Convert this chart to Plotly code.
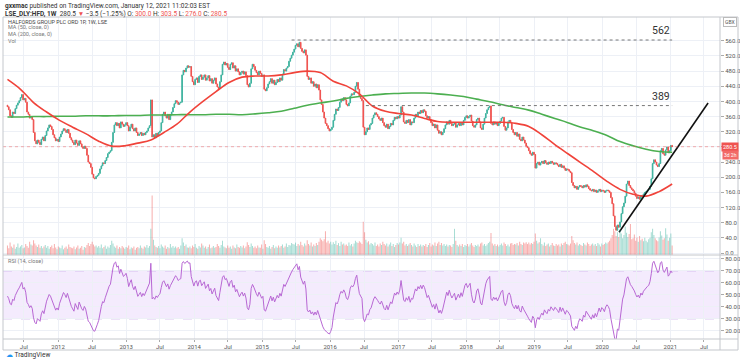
import numpy as np
import pandas as pd
import plotly.graph_objects as go

# ---------------- data ----------------
START = "2011-04-04"
FIRST_OPEN = 390
CLOSES = [
    386, 378, 362, 358, 372, 368, 381, 390, 396, 402,
    410, 418, 404, 408, 398, 372, 366, 356, 360, 352,
    318, 296, 288, 298, 292, 286, 300, 306, 296, 310,
    322, 330, 338, 334, 326, 312, 304, 296, 300, 294,
    306, 314, 322, 328, 324, 318, 326, 316, 304, 298,
    292, 286, 298, 290, 284, 296, 288, 280, 276, 282,
    276, 258, 240, 236, 226, 208, 198, 196, 202, 205,
    210, 222, 230, 238, 236, 244, 252, 262, 266, 270,
    292, 318, 338, 344, 336, 342, 330, 346, 340, 334,
    338, 344, 336, 322, 332, 340, 328, 322, 330, 318,
    310, 314, 318, 310, 316, 312, 318, 322, 330, 336,
    404, 306, 312, 304, 316, 310, 318, 322, 344, 366,
    372, 362, 356, 366, 352, 364, 372, 384, 394, 402,
    398, 392, 396, 398, 470, 482, 478, 488, 494, 490,
    492, 466, 452, 444, 458, 462, 450, 466, 470, 458,
    464, 470, 456, 462, 468, 454, 460, 448, 456, 462,
    446, 438, 434, 452, 470, 498, 504, 496, 500, 490,
    484, 498, 502, 488, 494, 480, 486, 478, 470, 476,
    480, 472, 478, 468, 444, 438, 448, 486, 498, 492,
    482, 476, 470, 480, 474, 466, 470, 432, 428, 436,
    446, 452, 460, 448, 456, 444, 450, 458, 452, 462,
    456, 472, 484, 480, 488, 492, 506, 514, 522, 530,
    538, 548, 552, 544, 556, 540, 532, 528, 536, 522,
    466, 458, 462, 448, 452, 440, 446, 436, 444, 430,
    404, 392, 372, 356, 342, 336, 328, 322, 326, 332,
    350, 366, 380, 376, 384, 398, 406, 402, 410, 404,
    392, 388, 396, 414, 420, 418, 424, 440, 450, 432,
    414, 408, 402, 332, 312, 320, 330, 326, 338, 342,
    356, 364, 370, 366, 360, 354, 350, 356, 344, 336,
    332, 340, 328, 334, 342, 338, 350, 358, 354, 360,
    356, 364, 386, 372, 346, 342, 350, 344, 352, 338,
    346, 344, 356, 366, 362, 372, 368, 376, 370, 378,
    374, 362, 356, 360, 352, 344, 336, 340, 330, 338,
    324, 316, 320, 312, 318, 328, 338, 346, 340, 350,
    342, 336, 340, 344, 332, 338, 342, 336, 344, 338,
    350, 358, 362, 356, 360, 364, 348, 336, 332, 338,
    352, 356, 346, 330, 326, 340, 356, 368, 378, 384,
    388, 342, 338, 346, 340, 344, 336, 342, 348, 356,
    358, 334, 324, 330, 346, 350, 344, 326, 318, 312,
    318, 308, 314, 300, 296, 306, 298, 290, 282, 278,
    270, 262, 258, 266, 260, 224, 236, 240, 232, 238,
    242, 236, 244, 238, 234, 240, 236, 242, 238, 234,
    238, 236, 232, 228, 234, 226, 230, 224, 218, 222,
    220, 216, 212, 186, 178, 172, 176, 168, 174, 178,
    176, 172, 178, 174, 180, 176, 170, 166, 164, 168,
    162, 166, 160, 164, 168, 162, 166, 164, 160, 164,
    166, 164, 160, 146, 130, 98, 70, 60, 74, 68,
    82, 104, 122, 132, 150, 182, 190, 178, 172, 168,
    164, 158, 150, 144, 148, 142, 152, 148, 156, 160,
    162, 166, 168, 176, 196, 236, 246, 240, 232, 228,
    236, 270, 276, 262, 258, 272, 280, 264, 270, 284, 280.5,
]
# weekly volume, in units of 100k shares
VOLUMES = [
    40, 28, 52, 36, 30, 44, 26, 34, 48, 30,
    36, 42, 28, 32, 46, 38, 30, 56, 44, 40,
    62, 48, 40, 34, 44, 30, 38, 28, 36, 42,
    30, 38, 26, 34, 40, 28, 46, 32, 24, 36,
    32, 28, 40, 24, 30, 36, 26, 44, 34, 30,
    28, 36, 24, 32, 40, 26, 30, 38, 22, 34,
    30, 42, 50, 38, 46, 56, 44, 36, 40, 32,
    38, 30, 44, 28, 34, 40, 26, 36, 30, 42,
    60, 48, 36, 30, 40, 26, 34, 28, 38, 32,
    26, 34, 30, 40, 24, 32, 28, 36, 22, 30,
    34, 28, 40, 30, 26, 36, 32, 42, 30, 38,
    110, 250, 64, 40, 34, 30, 38, 28, 44, 36,
    30, 40, 26, 34, 28, 46, 32, 38, 30, 36,
    28, 34, 26, 40, 70, 52, 38, 44, 32, 30,
    36, 28, 40, 34, 46, 30, 26, 38, 32, 48,
    40, 30, 36, 26, 34, 44, 28, 32, 38, 30,
    34, 46, 38, 30, 42, 60, 36, 32, 28, 40,
    30, 36, 26, 40, 32, 28, 44, 34, 30, 38,
    32, 40, 28, 36, 54, 42, 34, 48, 38, 30,
    36, 28, 40, 32, 30, 44, 26, 62, 46, 34,
    30, 38, 26, 34, 42, 28, 36, 30, 40, 32,
    38, 44, 30, 36, 48, 34, 42, 40, 50, 46,
    44, 52, 38, 46, 40, 56, 42, 36, 48, 40,
    62, 46, 40, 52, 36, 44, 38, 50, 42, 56,
    70, 64, 58, 66, 100, 52, 60, 48, 56, 44,
    54, 46, 60, 42, 50, 38, 56, 44, 48, 40,
    44, 38, 52, 40, 46, 36, 48, 60, 54, 50,
    58, 52, 46, 140, 96, 64, 52, 58, 44, 50,
    46, 40, 52, 38, 44, 36, 48, 42, 56, 46,
    40, 48, 36, 44, 52, 38, 46, 34, 42, 50,
    44, 52, 72, 48, 56, 40, 46, 38, 44, 50,
    42, 36, 48, 40, 34, 46, 38, 44, 36, 42,
    38, 46, 34, 42, 50, 36, 44, 40, 52, 38,
    48, 56, 42, 50, 40, 46, 38, 44, 36, 42,
    40, 34, 46, 110, 60, 42, 36, 44, 38, 46,
    34, 42, 38, 46, 36, 44, 50, 40, 34, 42,
    38, 44, 36, 48, 52, 40, 46, 38, 44, 50,
    56, 92, 48, 40, 46, 38, 44, 36, 42, 48,
    40, 52, 46, 38, 44, 36, 48, 50, 42, 46,
    44, 50, 40, 56, 46, 42, 52, 48, 54, 46,
    52, 44, 50, 46, 56, 90, 60, 48, 54, 70,
    46, 40, 52, 38, 44, 48, 36, 42, 50, 40,
    38, 46, 40, 44, 36, 48, 42, 50, 56, 46,
    44, 40, 48, 80, 62, 50, 44, 52, 40, 46,
    42, 38, 50, 44, 40, 52, 46, 38, 44, 48,
    40, 46, 38, 50, 44, 36, 48, 42, 46, 52,
    48, 54, 60, 70, 84, 110, 100, 80, 96, 76,
    108, 90, 70, 84, 120, 94, 76, 88, 130, 66,
    70, 86, 60, 74, 56, 80, 62, 68, 58, 72,
    60, 54, 66, 72, 96, 110, 84, 70, 62, 58,
    74, 100, 82, 64, 70, 112, 86, 60, 72, 90, 40,
]
# moving averages, one value every 10 weeks
MA50 = [458, 432, 397, 372, 350, 332, 315, 295, 282, 283,
        290, 298, 318, 340, 372, 400, 426, 450, 464, 467,
        467, 470, 476, 480, 476, 453, 441, 420, 388, 374,
        368, 364, 355, 347, 345, 345, 345, 345, 345, 342,
        334, 312, 286, 262, 238, 214, 189, 168, 155, 150,
        162, 182]
MA200 = [359, 359, 360, 360, 361, 361, 362, 362, 362, 363,
         363, 364, 364, 365, 365, 365, 366, 366, 365, 367,
         370, 374, 382, 390, 396, 401, 408, 413, 417, 420,
         421, 422, 422, 420, 417, 413, 406, 399, 391, 384,
         377, 366, 355, 344, 332, 322, 310, 294, 283, 274,
         268, 266]
LEVELS = [562, 389]
LEVEL_START = ["2015-06-08", "2016-07-11"]
LEVEL_END = "2021-01-11"
TREND_X = ["2020-04-01", "2021-07-23"]
TREND_Y = [55, 396]
LAST_PRICE = 280.5
PRICE_TICKS = list(range(0, 600, 40))
RSI_TICKS = [20, 30, 40, 50, 60, 70, 80]
X_RANGE = ["2011-03-11", "2021-09-25"]
X_TICK_DATES = []
X_TICK_TEXT = []
for yr in range(2011, 2022):
    if yr > 2011:
        X_TICK_DATES.append(f"{yr}-01-01"); X_TICK_TEXT.append(str(yr))
    X_TICK_DATES.append(f"{yr}-07-01"); X_TICK_TEXT.append("Jul")

# ---------------- derived ----------------
dates = pd.date_range(START, periods=len(CLOSES), freq="7D")
closes = np.array(CLOSES, float)
opens = np.concatenate([[FIRST_OPEN], closes[:-1]])
highs = np.maximum(opens, closes)
lows = np.minimum(opens, closes)
vols = np.array(VOLUMES[:len(CLOSES)], float)

UP = "#3fb39f"
DOWN = "#ef5350"
vol_colors = ["rgba(63,179,159,0.45)" if c >= o else "rgba(239,83,80,0.45)"
              for o, c in zip(opens, closes)]

# RSI(14), Wilder smoothing
ag, al = 7.0, 7.0
rsi = []
for dlt in np.diff(closes, prepend=FIRST_OPEN):
    g, l = max(dlt, 0.0), max(-dlt, 0.0)
    ag = (ag * 13 + g) / 14
    al = (al * 13 + l) / 14
    rsi.append(100 - 100 / (1 + ag / al) if al > 0 else 100.0)

ma_dates = dates[::10]

# ---------------- geometry ----------------
W, H = 740, 364
def px(x): return x / W
def py(y): return 1 - y / H
XD = [px(3), px(720)]
PRICE_DOM = [py(255), py(17)]
RSI_DOM = [py(339), py(255)]
GRID = "#edf0f6"
FONT = "Roboto, Arial, sans-serif"

fig = go.Figure()
fig.add_trace(go.Candlestick(
    x=dates, open=opens, high=highs, low=lows, close=closes,
    increasing=dict(line=dict(color=UP, width=1), fillcolor=UP),
    decreasing=dict(line=dict(color=DOWN, width=1), fillcolor=DOWN),
    xaxis="x", yaxis="y", showlegend=False, hoverinfo="skip"))
fig.add_trace(go.Scatter(x=ma_dates[:len(MA200)], y=MA200, mode="lines",
                         line=dict(color="#4caf50", width=1.6, shape="spline"),
                         xaxis="x", yaxis="y", showlegend=False))
fig.add_trace(go.Scatter(x=ma_dates[:len(MA50)], y=MA50, mode="lines",
                         line=dict(color="#f0433a", width=1.6, shape="spline"),
                         xaxis="x", yaxis="y", showlegend=False))
fig.add_trace(go.Scatter(x=TREND_X, y=TREND_Y, mode="lines",
                         line=dict(color="#111111", width=1.6),
                         xaxis="x", yaxis="y", showlegend=False))
fig.add_trace(go.Bar(x=dates, y=vols, marker=dict(color=vol_colors, line=dict(width=0)),
                     xaxis="x", yaxis="y3", showlegend=False))
fig.add_trace(go.Scatter(x=dates, y=rsi, mode="lines",
                         line=dict(color="#b868d4", width=1),
                         xaxis="x2", yaxis="y2", showlegend=False))

shapes = []
# RSI band
shapes.append(dict(type="rect", xref="paper", yref="y2", x0=XD[0], x1=XD[1], y0=30, y1=70,
                   fillcolor="rgba(165,90,240,0.12)", line=dict(width=0), layer="below"))
for lv in (30, 70):
    shapes.append(dict(type="line", xref="paper", yref="y2", x0=XD[0], x1=XD[1], y0=lv, y1=lv,
                       line=dict(color="#c9a8ea", width=1, dash="dash"), layer="below"))
# level lines
for lv, st in zip(LEVELS, LEVEL_START):
    shapes.append(dict(type="line", xref="x", yref="y", x0=st, x1=LEVEL_END, y0=lv, y1=lv,
                       line=dict(color="#777777", width=1, dash="dot")))
# last price line
shapes.append(dict(type="line", xref="paper", yref="y", x0=XD[0], x1=XD[1],
                   y0=LAST_PRICE, y1=LAST_PRICE,
                   line=dict(color="rgba(239,83,80,0.45)", width=1, dash="dot")))
# frame
FR = "#c4c7cc"
shapes.append(dict(type="rect", xref="paper", yref="paper", x0=px(3), x1=px(738),
                   y0=py(350), y1=py(17), line=dict(color=FR, width=1)))
shapes.append(dict(type="line", xref="paper", yref="paper", x0=px(720), x1=px(720),
                   y0=py(350), y1=py(17), line=dict(color=FR, width=1)))
for yy in (255, 339):
    shapes.append(dict(type="line", xref="paper", yref="paper", x0=px(3), x1=px(738),
                       y0=py(yy), y1=py(yy), line=dict(color=FR, width=1)))

RED = "#ef5350"
ann = []
def txt(x, y, t, size=6, color="#444", xa="left"):
    ann.append(dict(xref="paper", yref="paper", x=px(x), y=py(y), text=t, showarrow=False,
                    xanchor=xa, yanchor="middle", font=dict(size=size, color=color, family=FONT)))

txt(3, 6, "<b>gxxmac</b> published on TradingView.com, January 12, 2021 11:02:03 EST", 6.5, "#333")
txt(3, 14, f"<b>LSE_DLY:HFD, 1W</b>  280.5 <span style='color:{RED}'>▼</span> −3.5 (−1.25%) "
           f"O: <span style='color:{RED}'>300.0</span> H: <span style='color:{RED}'>303.5</span> "
           f"L: <span style='color:{RED}'>276.0</span> C: <span style='color:{RED}'>280.5</span>",
    6.5, "#333")
txt(6, 21.5, "HALFORDS GROUP PLC ORD 1P, 1W, LSE", 5.5, "#444")
txt(6, 28, "MA (50, close, 0)", 5.5, "#777")
txt(6, 34.5, "MA (200, close, 0)", 5.5, "#777")
txt(6, 41, "Vol", 5.5, "#777")
txt(6, 261.5, "RSI (14, close)", 5.5, "#777")
txt(4, 355, "<span style='color:#2196f3'>☁</span> TradingView", 6.5, "#333")

for lv in LEVELS:
    ann.append(dict(xref="x", yref="y", x=LEVEL_END, y=lv, text=str(lv), showarrow=False,
                    xanchor="right", yanchor="bottom", yshift=1,
                    font=dict(size=10.5, color="#333", family=FONT)))

ann.append(dict(xref="paper", yref="paper", x=px(730), y=py(22), text="GBX", showarrow=False,
                xanchor="center", yanchor="middle", bordercolor="#bbb", borderwidth=1, borderpad=1,
                bgcolor="white", font=dict(size=5, color="#555", family=FONT)))
ann.append(dict(xref="paper", yref="y", x=px(721), y=LAST_PRICE, text="280.5", showarrow=False,
                xanchor="left", yanchor="middle", bgcolor=RED, borderpad=1,
                font=dict(size=5.5, color="white", family=FONT)))
ann.append(dict(xref="paper", yref="y", x=px(722), y=LAST_PRICE, yshift=-8, text="3d 2h",
                showarrow=False, xanchor="left", yanchor="middle", bgcolor="#f26b68", borderpad=1,
                font=dict(size=5, color="white", family=FONT)))

price_text = ["" if v == 280 else f"{v:.1f}" for v in PRICE_TICKS]
axis_font = dict(size=6, color="#555", family=FONT)
fig.update_layout(
    width=W, height=H, margin=dict(l=0, r=0, t=0, b=0),
    paper_bgcolor="white", plot_bgcolor="white", bargap=0.2,
    font=dict(family=FONT),
    shapes=shapes, annotations=ann,
    xaxis=dict(domain=XD, anchor="y", range=X_RANGE, type="date",
               tickvals=X_TICK_DATES, showticklabels=False, showgrid=True, gridcolor=GRID,
               gridwidth=1, zeroline=False, rangeslider=dict(visible=False), showline=False),
    yaxis=dict(domain=PRICE_DOM, anchor="x", range=[-5.2, 622.7], side="right",
               tickvals=PRICE_TICKS, ticktext=price_text,
               tickfont=axis_font, showgrid=True, gridcolor=GRID, zeroline=False,
               ticks="outside", ticklen=3, tickcolor="#aaa", showline=False),
    yaxis3=dict(overlaying="y", anchor="x", range=[0, 1000], visible=False),
    xaxis2=dict(domain=XD, anchor="y2", range=X_RANGE, type="date", matches="x",
                tickvals=X_TICK_DATES, ticktext=X_TICK_TEXT, tickfont=axis_font,
                showgrid=True, gridcolor=GRID, zeroline=False, showline=False,
                ticks="outside", ticklen=2, tickcolor="#aaa"),
    yaxis2=dict(domain=RSI_DOM, anchor="x2", range=[13.2, 83.2], side="right",
                tickvals=RSI_TICKS, ticktext=[f"{v:.2f}" for v in RSI_TICKS],
                tickfont=axis_font, showgrid=True, gridcolor=GRID, zeroline=False,
                ticks="outside", ticklen=3, tickcolor="#aaa", showline=False),
)

fig.write_html("out.html", config={"displayModeBar": False},
               post_script="document.body.style.margin='0px';document.body.style.overflow='hidden';")
